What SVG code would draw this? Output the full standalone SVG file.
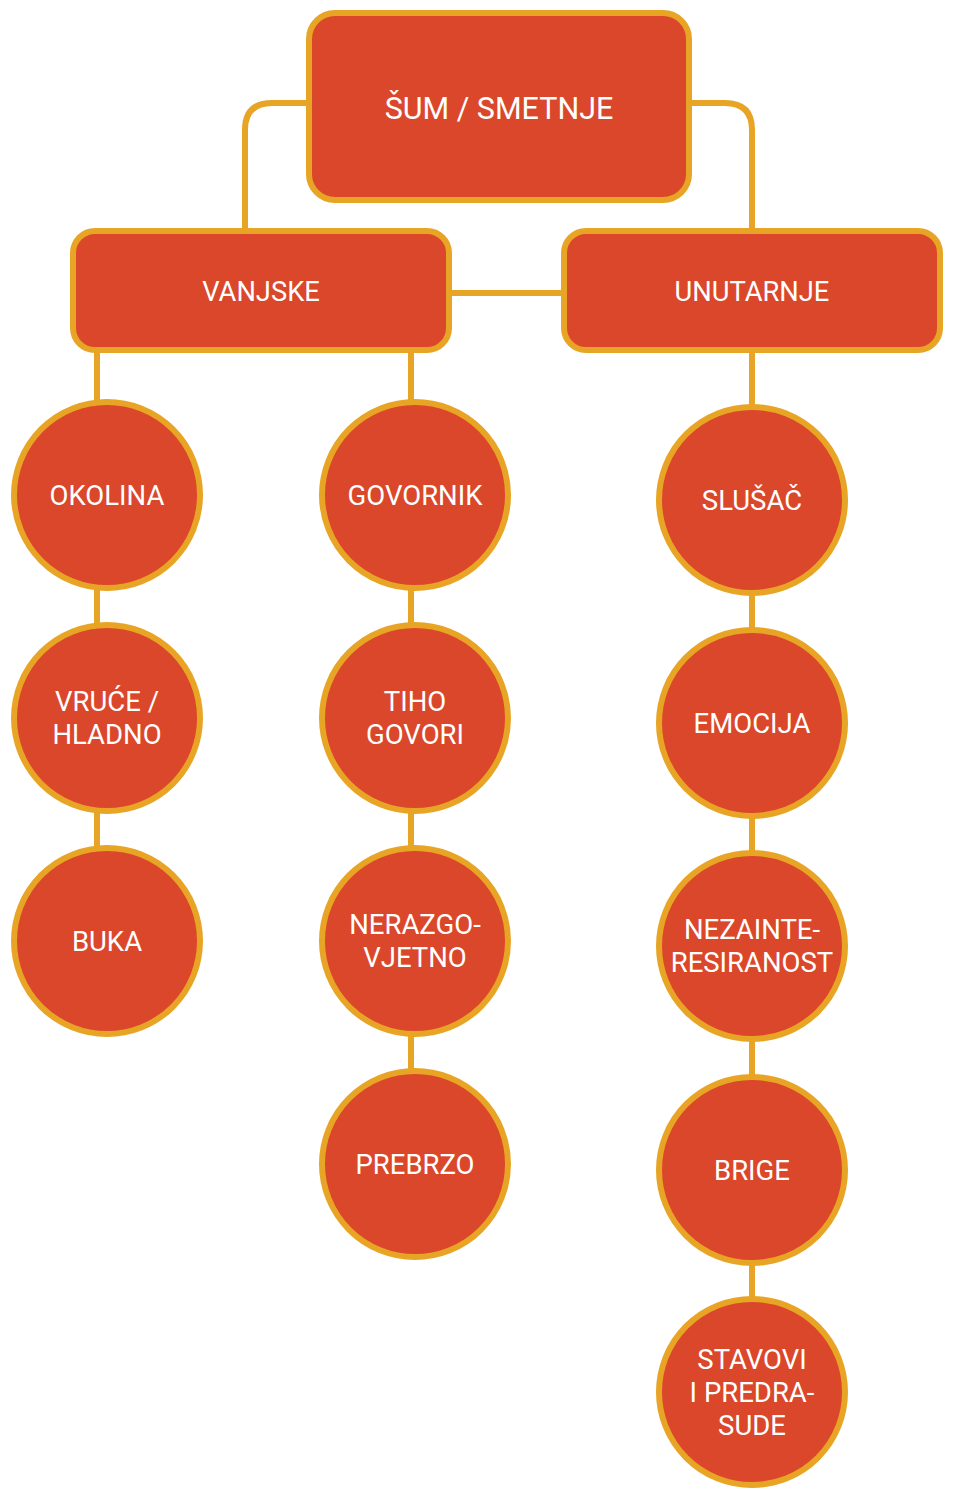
<svg xmlns="http://www.w3.org/2000/svg" width="957" height="1500" viewBox="0 0 957 1500">
<style>
.n{fill:#DB472A;stroke:#E8A424;stroke-width:6}
.c{fill:none;stroke:#E8A424;stroke-width:6}
.t{fill:#FFFFFF;font-family:Roboto,"Liberation Sans",sans-serif;font-size:27.5px;text-anchor:middle}
.tb{font-size:27.3px}
.tt{font-size:30.5px}
</style>
<rect width="957" height="1500" fill="#FFFFFF"/>
<g id="connectors">
<path class="c" d="M309,103 H272 Q245,103 245,130 V231"/>
<path class="c" d="M689,103 H725 Q752,103 752,130 V231"/>
<path class="c" d="M449,293 H564"/>
<path class="c" d="M97,350 V402"/>
<path class="c" d="M411,350 V402"/>
<path class="c" d="M752,350 V407"/>
<path class="c" d="M97,588 V625"/>
<path class="c" d="M97,811 V848"/>
<path class="c" d="M411,588 V625"/>
<path class="c" d="M411,811 V848"/>
<path class="c" d="M411,1034 V1071"/>
<path class="c" d="M752,593 V630"/>
<path class="c" d="M752,816 V853"/>
<path class="c" d="M752,1039 V1077"/>
<path class="c" d="M752,1263 V1299"/>
</g>
<g id="sum"><rect class="n" x="309" y="13" width="380" height="187" rx="26"/><text class="t tt" x="499" y="119">ŠUM / SMETNJE</text></g>
<g id="vanjske"><rect class="n" x="73" y="231" width="376" height="119" rx="22"/><text class="t tb" x="261" y="301">VANJSKE</text></g>
<g id="unutarnje"><rect class="n" x="564" y="231" width="376" height="119" rx="22"/><text class="t tb" x="752" y="301">UNUTARNJE</text></g>
<g id="okolina"><circle class="n" cx="107" cy="495" r="93"/><text class="t" x="107" y="505">OKOLINA</text></g>
<g id="vruce"><circle class="n" cx="107" cy="718" r="93"/><text class="t" x="107" y="711">VRUĆE /</text><text class="t" x="107" y="744">HLADNO</text></g>
<g id="buka"><circle class="n" cx="107" cy="941" r="93"/><text class="t" x="107" y="951">BUKA</text></g>
<g id="govornik"><circle class="n" cx="415" cy="495" r="93"/><text class="t" x="415" y="505">GOVORNIK</text></g>
<g id="tiho"><circle class="n" cx="415" cy="718" r="93"/><text class="t" x="415" y="711">TIHO</text><text class="t" x="415" y="744">GOVORI</text></g>
<g id="nerazgovjetno"><circle class="n" cx="415" cy="941" r="93"/><text class="t" x="415" y="934">NERAZGO-</text><text class="t" x="415" y="967">VJETNO</text></g>
<g id="prebrzo"><circle class="n" cx="415" cy="1164" r="93"/><text class="t" x="415" y="1174">PREBRZO</text></g>
<g id="slusac"><circle class="n" cx="752" cy="500" r="93"/><text class="t" x="752" y="510">SLUŠAČ</text></g>
<g id="emocija"><circle class="n" cx="752" cy="723" r="93"/><text class="t" x="752" y="733">EMOCIJA</text></g>
<g id="nezainteresiranost"><circle class="n" cx="752" cy="946" r="93"/><text class="t" x="752" y="939">NEZAINTE-</text><text class="t" x="752" y="972">RESIRANOST</text></g>
<g id="brige"><circle class="n" cx="752" cy="1170" r="93"/><text class="t" x="752" y="1180">BRIGE</text></g>
<g id="stavovi"><circle class="n" cx="752" cy="1392" r="93"/><text class="t" x="752" y="1369">STAVOVI</text><text class="t" x="752" y="1402">I PREDRA-</text><text class="t" x="752" y="1435">SUDE</text></g>
</svg>
